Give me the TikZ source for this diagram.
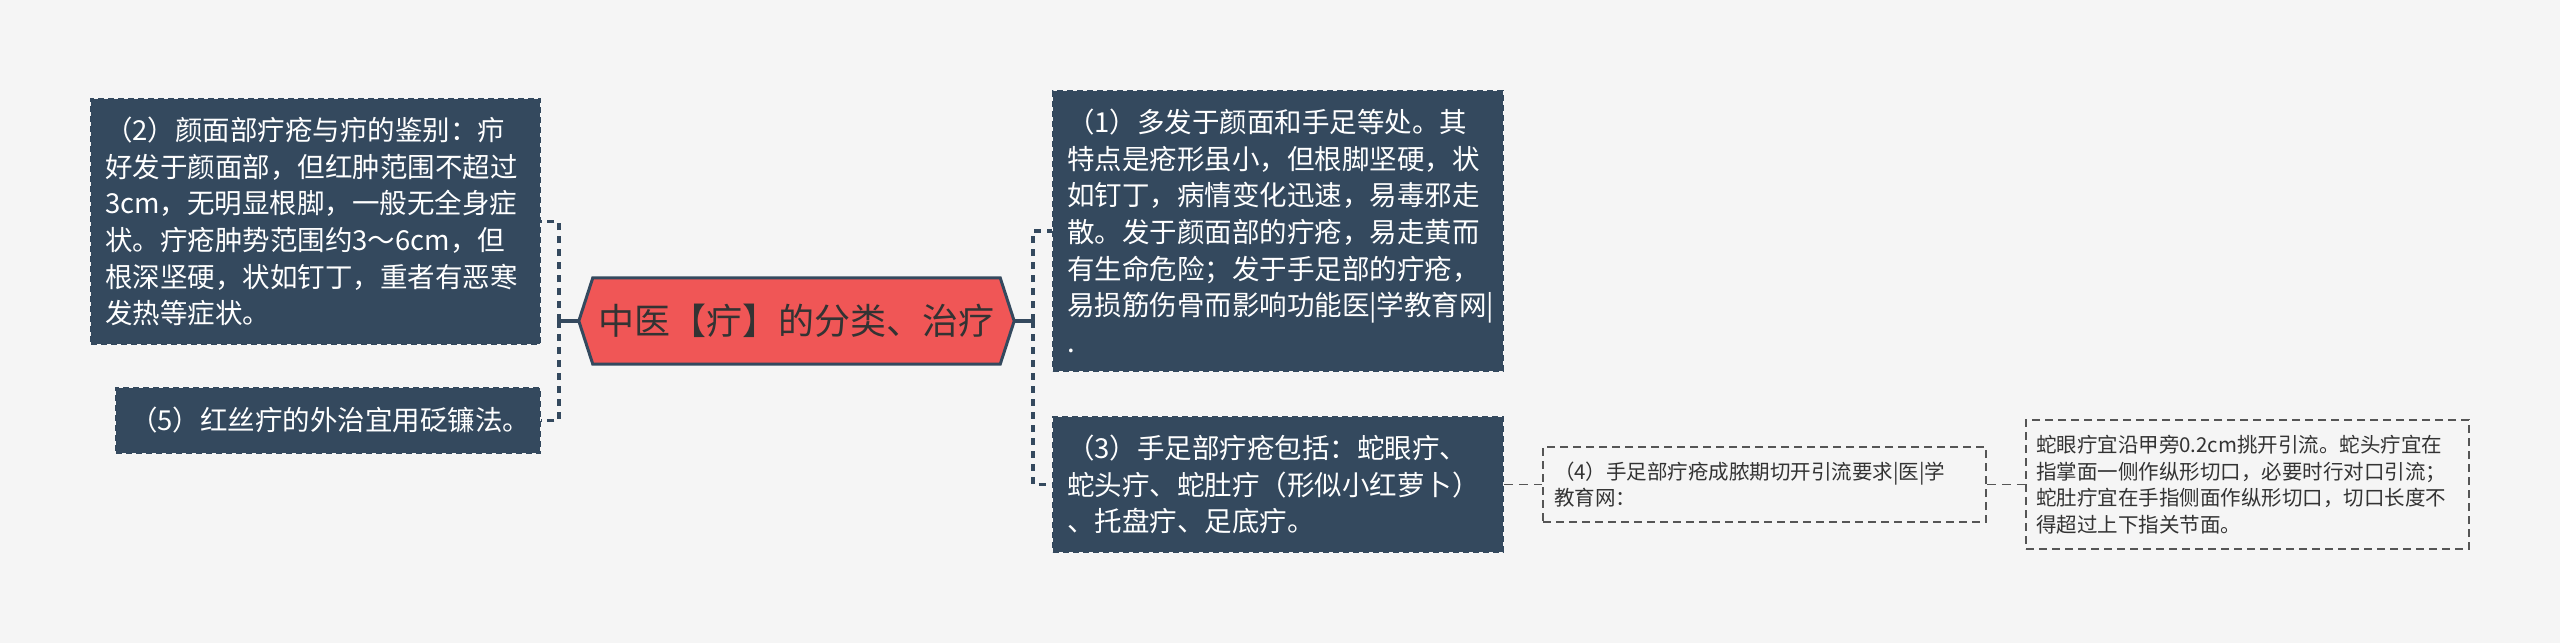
\documentclass[tikz,border=0pt]{standalone}
\usepackage{fontspec}
\newfontfamily\cjk{Noto Sans CJK SC}
\usetikzlibrary{calc}
\definecolor{bgc}{HTML}{F5F5F5}
\definecolor{navy}{HTML}{34495E}
\definecolor{hexred}{HTML}{F05656}
\definecolor{txtdark}{HTML}{333333}
\definecolor{graydash}{HTML}{555555}
\pgfdeclarelayer{background}
\pgfsetlayers{background,main}
\tikzset{
  darkbox/.style={draw=navy, fill=navy, line width=2pt, dash pattern=on 6pt off 4pt,
    text=white, font=\cjk\fontsize{27.5pt}{36.6pt}\selectfont, align=left, inner sep=0pt},
  lightbox/.style={draw=graydash, line width=1.8pt, dash pattern=on 8pt off 5pt,
    text=txtdark, font=\cjk\fontsize{20.5pt}{26.7pt}\selectfont, align=left, inner sep=0pt},
  hextext/.style={inner sep=0pt, text=txtdark, font=\cjk\fontsize{36pt}{40pt}\selectfont},
  hexshape/.style={draw=navy, fill=hexred, line width=3pt, line join=miter},
  conn/.style={draw=navy, line width=3.5pt, dash pattern=on 7pt off 6pt},
  connsolid/.style={draw=navy, line width=3.5pt},
  conngray/.style={draw=graydash, line width=1.8pt, dash pattern=on 9pt off 6pt},
}
\begin{document}
\begin{tikzpicture}[x=1pt,y=-1pt]
\begin{pgfonlayer}{background}
\fill[bgc] (0,0) rectangle (2560,643);
\end{pgfonlayer}
\useasboundingbox (0,0) rectangle (2560,643);

% central node
\node[hextext, minimum width=435, minimum height=86] (hex) at (796.5,321) {中医【疔】的分类、治疗};
\begin{pgfonlayer}{background}
\draw[hexshape] (hex.west) -- ([xshift=14pt]hex.north west) -- ([xshift=-14pt]hex.north east)
  -- (hex.east) -- ([xshift=-14pt]hex.south east) -- ([xshift=14pt]hex.south west) -- cycle;
\end{pgfonlayer}

% left boxes
\node[darkbox, minimum width=449, minimum height=245, text width=421] (b2) at (315.5,221.5)
  {（2）颜面部疔疮与疖的鉴别：疖\\好发于颜面部，但红肿范围不超过\\3cm，无明显根脚，一般无全身症\\状。疔疮肿势范围约3～6cm，但\\根深坚硬，状如钉丁，重者有恶寒\\发热等症状。};
\node[darkbox, minimum width=424, minimum height=65, text width=396] (b5) at (328,420.5)
  {（5）红丝疔的外治宜用砭镰法。};

% right boxes
\node[darkbox, minimum width=450, minimum height=280, text width=422] (b1) at (1278,231)
  {（1）多发于颜面和手足等处。其\\特点是疮形虽小，但根脚坚硬，状\\如钉丁，病情变化迅速，易毒邪走\\散。发于颜面部的疔疮，易走黄而\\有生命危险；发于手足部的疔疮，\\易损筋伤骨而影响功能医|学教育网|\\.};
\node[darkbox, minimum width=450, minimum height=135, text width=422] (b3) at (1278,484.5)
  {（3）手足部疔疮包括：蛇眼疔、\\蛇头疔、蛇肚疔（形似小红萝卜）\\、托盘疔、足底疔。};

\node[lightbox, minimum width=443, minimum height=75, text width=421] (b4) at (1764.5,484.5)
  {（4）手足部疔疮成脓期切开引流要求|医|学\\教育网：};
\node[lightbox, minimum width=443, minimum height=129, text width=423] (b6) at (2247.5,484.5)
  {蛇眼疔宜沿甲旁0.2cm挑开引流。蛇头疔宜在\\指掌面一侧作纵形切口，必要时行对口引流；\\蛇肚疔宜在手指侧面作纵形切口，切口长度不\\得超过上下指关节面。};

% connectors
\coordinate (jl) at ($(hex.west)+(-20,0)$);
\coordinate (jr) at ($(hex.east)+(19,0)$);
\draw[connsolid] (hex.west) -- (jl);
\draw[conn] (jl) |- (b2.east);
\draw[conn] (jl) |- (b5.east);
\draw[connsolid] (hex.east) -- (jr);
\draw[conn] (jr) |- (b1.west);
\draw[conn] (jr) |- (b3.west);
\draw[conngray] (b3.east) -- (b4.west);
\draw[conngray] (b4.east) -- (b6.west);
\end{tikzpicture}
\end{document}
